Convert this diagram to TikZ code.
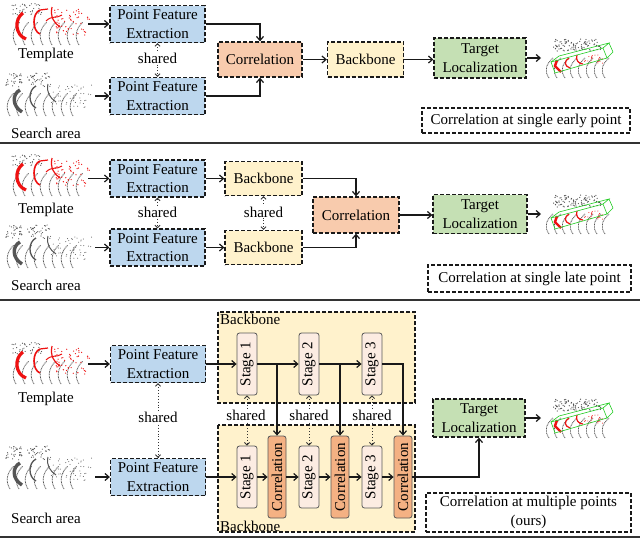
\documentclass[tikz,border=0pt]{standalone}
\usepackage{fontspec}
\setmainfont{Liberation Serif}
\usetikzlibrary{arrows.meta,calc}
\definecolor{pfeblue}{HTML}{BDD7EE}
\definecolor{corrorange}{HTML}{F8CBAD}
\definecolor{bbyellow}{HTML}{FFF2CC}
\definecolor{tlgreen}{HTML}{C5E0B4}
\definecolor{stagefill}{HTML}{FCECE2}
\definecolor{corrv}{HTML}{F4B183}
\definecolor{ptgray}{HTML}{555555}
\definecolor{ptred}{HTML}{EE1111}
\definecolor{boxgreen}{HTML}{22CC22}
\tikzset{
  dbox/.style={draw=black!90, dash pattern=on 4pt off 2pt, line width=1.3pt, align=center, inner sep=1pt},
  pfe/.style={dbox, fill=pfeblue, minimum width=95, minimum height=37},
  corr/.style={dbox, fill=corrorange, minimum width=84, minimum height=35},
  bbn/.style={dbox, fill=bbyellow, minimum width=76, minimum height=35},
  tln/.style={dbox, fill=tlgreen, minimum width=92, minimum height=40},
  capbox/.style={dbox, fill=white},
  bbregion/.style={draw=black!90, dash pattern=on 4pt off 2pt, line width=1.3pt, fill=bbyellow},
  stagebox/.style={draw=gray!70!black, rounded corners=2.5pt, fill=stagefill, rotate=90, minimum width=62, minimum height=20, inner sep=0pt, line width=0.8pt},
  corrvbox/.style={draw=gray!70!black, rounded corners=2.5pt, fill=corrv, rotate=90, minimum width=82, minimum height=18, inner sep=0pt, line width=0.8pt},
  arr/.style={-{Straight Barb[length=4pt,width=7pt]}, line width=1.2pt, black!90},
  shr/.style={{Straight Barb[length=2.5pt,width=5pt]}-{Straight Barb[length=2.5pt,width=5pt]}, line width=0.9pt, dotted, black!80},
  shlabel/.style={fill=white, inner sep=1pt},
  sep/.style={line width=1.6pt, black!80},
  ring/.style={ptgray, line width=0.8pt, dash pattern=on 0.9pt off 0.7pt},
  pics/rings/.style={code={
    \foreach \k in {0,...,7}{
      \draw[ring] ({6+9*\k},44) .. controls ({1+9*\k},36) and ({3+9*\k},27) .. ({10+9*\k},21);
    }
  }},
  pics/template/.style={code={
    \pic {rings};
    \pgfmathsetseed{7}
    \foreach \i in {1,...,40}{
      \pgfmathsetmacro\xx{2+30*rnd}\pgfmathsetmacro\yy{2+12*rnd}
      \fill[ptgray] (\xx,\yy) circle (0.6pt);
    }
    \draw[ptred, line width=3.2pt] (13,12) .. controls (4,18) and (5,34) .. (16,38);
    \draw[ptred, line width=1.6pt] (30,9) .. controls (22,12) and (22,30) .. (30,33);
    \draw[ptred, line width=1.2pt] (30,9) -- (38,8);
    \draw[ptred, line width=1.2pt] (42,6) .. controls (40,16) and (44,22) .. (50,26);
    \draw[ptred, line width=1pt] (36,20) .. controls (42,14) and (46,18) .. (52,14);
    \foreach \i in {1,...,55}{
      \pgfmathsetmacro\xx{44+38*rnd}\pgfmathsetmacro\yy{8+26*rnd}
      \fill[ptred] (\xx,\yy) circle (0.65pt);
    }
  }},
  pics/search/.style={code={
    \pic {rings};
    \pgfmathsetseed{11}
    \foreach \i in {1,...,70}{
      \pgfmathsetmacro\xx{2+45*rnd}\pgfmathsetmacro\yy{1+14*rnd}
      \fill[ptgray] (\xx,\yy) circle (0.6pt);
    }
    \draw[ptgray, line width=3.4pt] (16,18) .. controls (8,22) and (8,34) .. (18,40);
    \draw[ptgray, line width=1.3pt] (32,14) .. controls (24,18) and (24,32) .. (32,36);
    \draw[ptgray, line width=1pt] (44,12) .. controls (42,20) and (46,26) .. (52,30);
    \foreach \i in {1,...,50}{
      \pgfmathsetmacro\xx{46+42*rnd}\pgfmathsetmacro\yy{12+24*rnd}
      \fill[ptgray] (\xx,\yy) circle (0.5pt);
    }
  }},
  pics/result/.style={code={
    \foreach \k in {0,...,7}{
      \draw[ring] ({6+8*\k},40) .. controls ({1+8*\k},33) and ({3+8*\k},26) .. ({10+8*\k},20);
    }
    \pgfmathsetseed{5}
    \foreach \i in {1,...,90}{
      \pgfmathsetmacro\xx{10+48*rnd}\pgfmathsetmacro\yy{1+12*rnd}
      \fill[ptgray] (\xx,\yy) circle (0.65pt);
    }
    \draw[ptred, line width=2.4pt] (14,22) -- (12,28) -- (18,34);
    \draw[ptred, line width=1.2pt] (26,20) .. controls (21,23) and (21,28) .. (27,30);
    \draw[ptred, line width=1.2pt] (34,17) .. controls (32,22) and (36,26) .. (40,26);
    \foreach \i in {1,...,25}{
      \pgfmathsetmacro\xx{40+22*rnd}\pgfmathsetmacro\yy{17+9*rnd}
      \fill[ptred] (\xx,\yy) circle (0.5pt);
    }
    \draw[boxgreen, line width=0.6pt] (8,24) -- (60,10) -- (64,20) -- (12,35) -- cycle;
    \draw[boxgreen, line width=0.6pt] (8,24) -- (16,18) -- (66,5) -- (60,10);
    \draw[boxgreen, line width=0.6pt] (66,5) -- (70,14) -- (64,20);
  }},
}
\begin{document}
\begin{tikzpicture}[x=1pt,y=-1pt, font=\fontsize{15}{18.5}\selectfont]
\useasboundingbox (0,0) rectangle (640,539);
\fill[white] (0,0) rectangle (640,539);

% ---------------- Panel 1 ----------------
\pic at (10,1) {template};
\pic at (4,72) {search};
\node (tmpl1) at (46,55) {Template};
\node (srch1) at (46,133) {Search area};
\coordinate (ti1) at (88,24);
\coordinate (si1) at (95,96);
\node[pfe] (p1a) at (157.5,24) {Point Feature\\Extraction};
\node[pfe] (p1b) at (157.5,96) {Point Feature\\Extraction};
\draw[shr] (p1a.south) -- (p1b.north);
\node[shlabel] (sh1) at (157.5,58) {shared};
\node[corr] (c1) at (260,59.5) {Correlation};
\node[bbn] (b1) at (365.5,59.5) {Backbone};
\node[tln] (t1) at (480,58) {Target\\Localization};
\pic at (543,38) {result};
\coordinate (r1) at (541,58);
\node[capbox, minimum width=208, minimum height=25] (cap1) at (526,120.5) {Correlation at single early point};
\draw[arr] (ti1) -- (p1a.west);
\draw[arr] (si1) -- (p1b.west);
\draw[arr] (p1a.east) -| (c1.north);
\draw[arr] (p1b.east) -| (c1.south);
\draw[arr] (c1.east) -- (b1.west);
\draw[arr] (b1.east) -- (b1.east -| t1.west);
\draw[arr] (t1.east) -- (r1);
\draw[sep] (0,143) -- (640,143);

% ---------------- Panel 2 ----------------
\pic at (10,152) {template};
\pic at (4,224) {search};
\node (tmpl2) at (46,210) {Template};
\node (srch2) at (46,285) {Search area};
\coordinate (ti2) at (88,178.5);
\coordinate (si2) at (95,247.5);
\node[pfe] (p2a) at (157.5,178.5) {Point Feature\\Extraction};
\node[pfe] (p2b) at (157.5,247.5) {Point Feature\\Extraction};
\draw[shr] (p2a.south) -- (p2b.north);
\node[shlabel] (sh2) at (157.5,212) {shared};
\node[bbn, minimum width=77, minimum height=34] (b2a) at (263.5,178.5) {Backbone};
\node[bbn, minimum width=77, minimum height=34] (b2b) at (263.5,247.5) {Backbone};
\draw[shr] (b2a.south) -- (b2b.north);
\node[shlabel] (sh3) at (263.5,212) {shared};
\node[corr, minimum width=86, minimum height=36] (c2) at (356,215) {Correlation};
\node[tln, minimum width=94, minimum height=39] (t2) at (480,214) {Target\\Localization};
\pic at (543,194) {result};
\coordinate (r2) at (541,214);
\node[capbox, minimum width=203, minimum height=27] (cap2) at (529.5,278.5) {Correlation at single late point};
\draw[arr] (ti2) -- (p2a.west);
\draw[arr] (si2) -- (p2b.west);
\draw[arr] (p2a.east) -- (b2a.west);
\draw[arr] (p2b.east) -- (b2b.west);
\draw[arr] (b2a.east) -| (c2.north);
\draw[arr] (b2b.east) -| (c2.south);
\draw[arr] (c2.east) -- (c2.east -| t2.west);
\draw[arr] (t2.east) -- (r2);
\draw[sep] (0,300) -- (640,300);

% ---------------- Panel 3 ----------------
\pic at (10,340) {template};
\pic at (4,445) {search};
\node (tmpl3) at (46,399) {Template};
\node (srch3) at (46,518) {Search area};
\coordinate (ti3) at (88,364);
\coordinate (si3) at (95,477);
\draw[bbregion] (218,312) rectangle (415,403);
\draw[bbregion] (218,425) rectangle (415,532);
\node[anchor=north west, inner sep=1pt] (bbl1) at (219,313) {Backbone};
\node[anchor=south west, inner sep=1pt] (bbl2) at (219,533) {Backbone};
\node[pfe] (p3a) at (158,364) {Point Feature\\Extraction};
\node[pfe] (p3b) at (158,477) {Point Feature\\Extraction};
\draw[shr] (p3a.south) -- (p3b.north);
\node[shlabel] (sh4) at (158,417) {shared};

\node[stagebox] (s1a) at (247,364) {Stage 1};
\node[stagebox] (s2a) at (309,364) {Stage 2};
\node[stagebox] (s3a) at (372,364) {Stage 3};
\node[stagebox] (s1b) at (247,477) {Stage 1};
\node[stagebox] (s2b) at (309,477) {Stage 2};
\node[stagebox] (s3b) at (372,477) {Stage 3};
\node[corrvbox] (c31) at (277,477) {Correlation};
\node[corrvbox] (c32) at (340,477) {Correlation};
\node[corrvbox] (c33) at (403,477) {Correlation};

\draw[shr] (s1a) -- (s1b);
\draw[shr] (s2a) -- (s2b);
\draw[shr] (s3a) -- (s3b);
\node[shlabel] (sh5) at (246,415) {shared};
\node[shlabel] (sh6) at (309,415) {shared};
\node[shlabel] (sh7) at (372,415) {shared};

\node[tln, minimum width=92, minimum height=38] (t3) at (479,418) {Target\\Localization};
\pic at (543,398) {result};
\coordinate (r3) at (541,418);
\node[capbox, minimum width=205, minimum height=39] (cap3) at (528.5,512.5) {Correlation at multiple points\\(ours)};

\draw[arr] (ti3) -- (p3a.west);
\draw[arr] (si3) -- (p3b.west);
\draw[arr] (p3a.east) -- (s1a);
\draw[arr] (s1a) -- (s2a);
\draw[arr] (s2a) -- (s3a);
\draw[arr] (c31.center |- s1a.center) -- (c31);
\draw[arr] (c32.center |- s2a.center) -- (c32);
\draw[arr] (s3a) -| (c33);
\draw[arr] (p3b.east) -- (s1b);
\draw[arr] (s1b) -- (c31);
\draw[arr] (c31) -- (s2b);
\draw[arr] (s2b) -- (c32);
\draw[arr] (c32) -- (s3b);
\draw[arr] (s3b) -- (c33);
\draw[arr] (c33) -| (t3);
\draw[arr] (t3.east) -- (r3);
\draw[sep] (0,537) -- (640,537);
\end{tikzpicture}
\end{document}
